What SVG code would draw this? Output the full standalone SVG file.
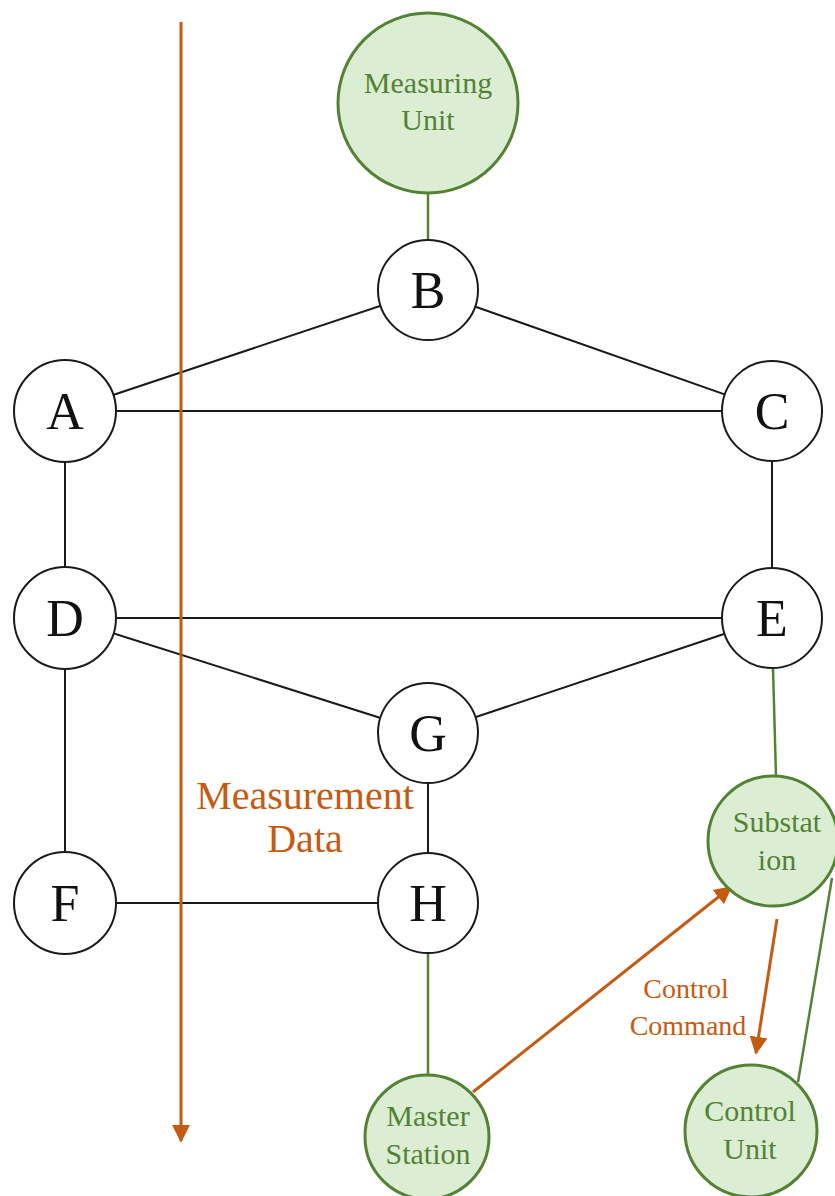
<svg xmlns="http://www.w3.org/2000/svg" width="835" height="1196" viewBox="0 0 835 1196">
  <defs>
    <marker id="arrow" viewBox="0 0 10 10" refX="9" refY="5" markerWidth="6" markerHeight="6" markerUnits="strokeWidth" orient="auto">
      <path d="M0,0 L10,5 L0,10 z" fill="#c55a11"/>
    </marker>
    <style>
      .edge { stroke: #1a1a1a; stroke-width: 2; fill: none; }
      .link { stroke: #548235; stroke-width: 2.5; fill: none; }
      .flow { stroke: #c55a11; stroke-width: 3; fill: none; marker-end: url(#arrow); }
      .bus { fill: #ffffff; stroke: #1a1a1a; stroke-width: 2; }
      .unit { fill: #dbeed3; stroke: #548235; stroke-width: 3; }
      .letter { font-family: "Liberation Serif", serif; font-size: 52px; fill: #111111; text-anchor: middle; }
      .ulabel { font-family: "Liberation Serif", serif; font-size: 30px; fill: #548235; text-anchor: middle; }
      .olabel { font-family: "Liberation Serif", serif; fill: #c55a11; text-anchor: middle; }
    </style>
  </defs>
  <rect width="835" height="1196" fill="#ffffff"/>

  <!-- connectors -->
  <g id="connectors">
    <line class="edge" x1="428" y1="290" x2="65" y2="411"/>
    <line class="edge" x1="428" y1="290" x2="772" y2="411"/>
    <line class="edge" x1="65" y1="411" x2="772" y2="411"/>
    <line class="edge" x1="65" y1="411" x2="65" y2="618"/>
    <line class="edge" x1="772" y1="411" x2="772" y2="618"/>
    <line class="edge" x1="65" y1="618" x2="772" y2="618"/>
    <line class="edge" x1="65" y1="618" x2="428" y2="733"/>
    <line class="edge" x1="772" y1="618" x2="428" y2="733"/>
    <line class="edge" x1="428" y1="733" x2="428" y2="903"/>
    <line class="edge" x1="65" y1="618" x2="65" y2="903"/>
    <line class="edge" x1="65" y1="903" x2="428" y2="903"/>
    <line class="link" x1="428" y1="190" x2="428" y2="240"/>
    <line class="link" x1="773" y1="668" x2="776" y2="777"/>
    <line class="link" x1="428" y1="953" x2="428" y2="1075"/>
    <line class="link" x1="832" y1="878" x2="798" y2="1082"/>
    <line class="flow" x1="181" y1="22" x2="181" y2="1141"/>
    <line class="flow" x1="473" y1="1092" x2="731" y2="887"/>
    <line class="flow" x1="777" y1="919" x2="756" y2="1053"/>
  </g>

  <!-- network buses -->
  <g id="node-B"><circle class="bus" cx="428" cy="290" r="50"/><text class="letter" x="428" y="308">B</text></g>
  <g id="node-A"><circle class="bus" cx="65" cy="411" r="51"/><text class="letter" x="65" y="429">A</text></g>
  <g id="node-C"><circle class="bus" cx="772" cy="411" r="50"/><text class="letter" x="772" y="429">C</text></g>
  <g id="node-D"><circle class="bus" cx="65" cy="618" r="51"/><text class="letter" x="65" y="636">D</text></g>
  <g id="node-E"><circle class="bus" cx="772" cy="618" r="50"/><text class="letter" x="772" y="636">E</text></g>
  <g id="node-G"><circle class="bus" cx="428" cy="733" r="50"/><text class="letter" x="428" y="751">G</text></g>
  <g id="node-F"><circle class="bus" cx="65" cy="903" r="51"/><text class="letter" x="65" y="921">F</text></g>
  <g id="node-H"><circle class="bus" cx="428" cy="903" r="50"/><text class="letter" x="428" y="921">H</text></g>

  <!-- equipment -->
  <g id="node-measuring-unit">
    <circle class="unit" cx="428" cy="103" r="90"/>
    <text class="ulabel" x="428" y="93" font-size="31">Measuring</text>
    <text class="ulabel" x="428" y="130" font-size="31">Unit</text>
  </g>
  <g id="node-substation">
    <circle class="unit" cx="773" cy="841" r="65"/>
    <text class="ulabel" x="777" y="832">Substat</text>
    <text class="ulabel" x="777" y="870">ion</text>
  </g>
  <g id="node-master-station">
    <circle class="unit" cx="427" cy="1137" r="62"/>
    <text class="ulabel" x="428" y="1126">Master</text>
    <text class="ulabel" x="428" y="1164">Station</text>
  </g>
  <g id="node-control-unit">
    <circle class="unit" cx="751" cy="1131" r="66"/>
    <text class="ulabel" x="750" y="1121">Control</text>
    <text class="ulabel" x="750" y="1159">Unit</text>
  </g>

  <!-- flow labels -->
  <g id="label-measurement">
    <text class="olabel" font-size="40" x="305" y="809">Measurement</text>
    <text class="olabel" font-size="40" x="305" y="852">Data</text>
  </g>
  <g id="label-control">
    <text class="olabel" font-size="28" x="686" y="998">Control</text>
    <text class="olabel" font-size="28" x="688" y="1035">Command</text>
  </g>
</svg>
